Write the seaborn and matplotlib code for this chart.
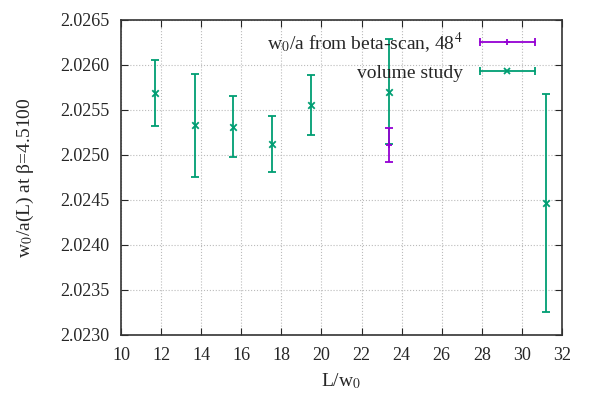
import numpy as np
import matplotlib
matplotlib.use("Agg")
import matplotlib.pyplot as plt
import seaborn as sns
from matplotlib.lines import Line2D
from matplotlib.legend_handler import HandlerBase

# --------------------------------------------------
# DATA
# --------------------------------------------------

vol_x = [11.72, 13.67, 15.60, 17.55, 19.49, 23.38, 31.18]
vol_y = [2.025692, 2.025330, 2.025315, 2.025122, 2.025556, 2.025700, 2.024463]
vol_lo = [2.025326, 2.024759, 2.024974, 2.024815, 2.025222, 2.025122, 2.023252]
vol_hi = [2.026056, 2.025900, 2.025659, 2.025433, 2.025889, 2.026289, 2.025674]

beta_x = [23.38]
beta_y = [2.025110]
beta_lo = [2.024919]
beta_hi = [2.025303]

x_ticks = list(range(10, 33, 2))
y_ticks = [2.0230, 2.0235, 2.0240, 2.0245, 2.0250, 2.0255, 2.0260, 2.0265]

PURPLE = "#9400d3"
GREEN = "#009e73"

# --------------------------------------------------
# STYLE
# --------------------------------------------------

sns.set_style("ticks")
plt.rcParams["font.family"] = ["Liberation Serif", "DejaVu Serif"]
plt.rcParams["mathtext.fontset"] = "stix"
plt.rcParams["font.size"] = 13


class ErrKeyHandler(HandlerBase):
    # gnuplot-like key sample: horizontal bar with end caps and a centre marker
    def create_artists(self, legend, orig_handle, xdescent, ydescent,
                       width, height, fontsize, trans):
        y = height / 2 - ydescent
        x0, x1 = -xdescent, width - xdescent
        col = orig_handle.get_color()
        line = Line2D([x0, x1], [y, y], color=col, lw=1.3)
        caps = Line2D([x0, x1], [y, y], ls="none", marker="|", ms=6,
                      mew=1.3, color=col)
        mid = Line2D([(x0 + x1) / 2], [y], ls="none",
                     marker=orig_handle.get_marker(), ms=5, mew=1.3, color=col)
        for a in (line, caps, mid):
            a.set_transform(trans)
        return [line, caps, mid]


fig = plt.figure(figsize=(5.98, 4.19), dpi=100)
ax = fig.add_axes([0.2023, 0.2005, 0.7375, 0.7518])


def draw_series(x, y, lo, hi, color, marker, z):
    y = np.array(y)
    yerr = [y - np.array(lo), np.array(hi) - y]
    ax.errorbar(x, y, yerr=yerr, fmt="none", ecolor=color, elinewidth=1.3,
                capsize=3, capthick=1.3, zorder=z)
    sns.scatterplot(x=x, y=y, ax=ax, color=color, marker=marker, s=22,
                    linewidth=1.3, zorder=z + 0.5, legend=False)


draw_series(vol_x, vol_y, vol_lo, vol_hi, GREEN, "x", 3)
draw_series(beta_x, beta_y, beta_lo, beta_hi, PURPLE, "+", 4)

ax.set_xlim(10, 32)
ax.set_ylim(2.0230, 2.0265)
ax.set_xticks(x_ticks)
ax.set_yticks(y_ticks)
ax.set_yticklabels([f"{v:.4f}" for v in y_ticks])
ax.tick_params(direction="in", top=True, right=True, length=5, width=0.8,
               labelsize=13)
ax.tick_params(axis="x", pad=9)
ax.tick_params(axis="y", pad=8)
ax.grid(True, color="#bbbbbb", ls=":", lw=0.8)
for s in ax.spines.values():
    s.set_visible(True)
    s.set_color("#333333")
    s.set_linewidth(1.2)

ax.set_xlabel(r"L/w$_0$", fontsize=14, labelpad=5)
ax.set_ylabel(r"w$_0$/a(L) at β=4.5100", fontsize=14, labelpad=18)

handles = [Line2D([], [], color=PURPLE, marker="+"),
           Line2D([], [], color=GREEN, marker="x")]
labels = [r"w$_0$/a from beta-scan, 48$^4$", "volume study"]
ax.legend(handles, labels, loc="upper right", markerfirst=False,
          frameon=False, fontsize=14, handlelength=2.8, handletextpad=0.9,
          labelspacing=0.5, borderaxespad=0.1, bbox_to_anchor=(0.96, 1.0),
          handler_map={Line2D: ErrKeyHandler()})

fig.savefig("out.png", dpi=100)
